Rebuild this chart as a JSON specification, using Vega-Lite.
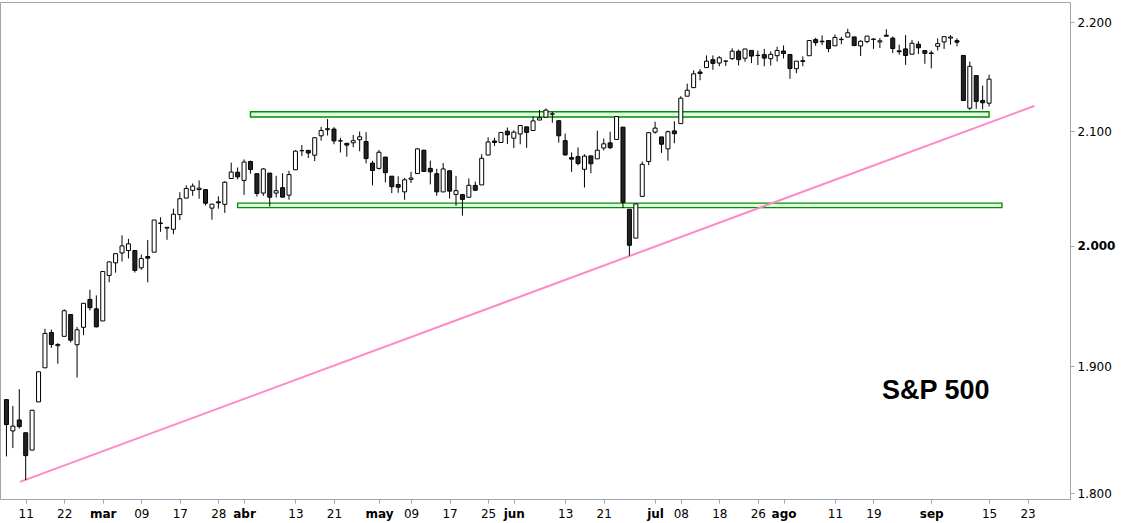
{
  "$schema": "https://vega.github.io/schema/vega-lite/v6.json",
  "autosize": "none",
  "width": 1070,
  "height": 497,
  "padding": {"left": 0, "top": 2, "right": 55, "bottom": 24},
  "background": "white",
  "config": {
    "view": {"stroke": "#9ea7b0", "strokeWidth": 1},
    "scale": {"continuousPadding": 0},
    "axis": {"grid": false, "title": null, "domainColor": "#9ea7b0", "tickColor": "#9ea7b0", "tickSize": 4, "labelFont": "DejaVu Sans", "labelFontSize": 12, "labelColor": "#000000"}
  },
  "datasets": {
    "ohlc": [
      {"d":"2016-02-08","t":-3,"o":1873.25,"h":1873.25,"l":1828.46,"c":1853.44},
      {"d":"2016-02-09","t":-2,"o":1848.46,"h":1868.25,"l":1834.94,"c":1852.21},
      {"d":"2016-02-10","t":-1,"o":1857.10,"h":1881.60,"l":1850.32,"c":1851.86},
      {"d":"2016-02-11","t":0,"o":1847.00,"h":1847.00,"l":1810.10,"c":1829.08},
      {"d":"2016-02-12","t":1,"o":1833.40,"h":1864.78,"l":1833.40,"c":1864.78},
      {"d":"2016-02-16","t":2,"o":1871.44,"h":1895.77,"l":1871.44,"c":1895.58},
      {"d":"2016-02-17","t":3,"o":1898.80,"h":1930.68,"l":1898.80,"c":1926.82},
      {"d":"2016-02-18","t":4,"o":1927.57,"h":1930.00,"l":1915.09,"c":1917.83},
      {"d":"2016-02-19","t":5,"o":1916.74,"h":1918.78,"l":1902.17,"c":1917.78},
      {"d":"2016-02-22","t":6,"o":1924.44,"h":1946.70,"l":1924.44,"c":1945.50},
      {"d":"2016-02-23","t":7,"o":1942.38,"h":1942.38,"l":1919.44,"c":1921.27},
      {"d":"2016-02-24","t":8,"o":1917.56,"h":1932.08,"l":1891.00,"c":1929.80},
      {"d":"2016-02-25","t":9,"o":1931.87,"h":1951.83,"l":1925.41,"c":1951.70},
      {"d":"2016-02-26","t":10,"o":1954.95,"h":1962.96,"l":1945.78,"c":1948.05},
      {"d":"2016-02-29","t":11,"o":1947.13,"h":1958.27,"l":1931.81,"c":1932.23},
      {"d":"2016-03-01","t":12,"o":1937.09,"h":1978.35,"l":1937.09,"c":1978.35},
      {"d":"2016-03-02","t":13,"o":1975.00,"h":1986.51,"l":1969.18,"c":1986.45},
      {"d":"2016-03-03","t":14,"o":1985.60,"h":1993.69,"l":1977.37,"c":1993.40},
      {"d":"2016-03-04","t":15,"o":1994.01,"h":2009.13,"l":1986.77,"c":1999.99},
      {"d":"2016-03-07","t":16,"o":1996.11,"h":2006.12,"l":1989.38,"c":2001.76},
      {"d":"2016-03-08","t":17,"o":1996.11,"h":1996.11,"l":1977.43,"c":1979.26},
      {"d":"2016-03-09","t":18,"o":1981.44,"h":1992.69,"l":1979.84,"c":1989.26},
      {"d":"2016-03-10","t":19,"o":1990.97,"h":2005.08,"l":1969.25,"c":1989.57},
      {"d":"2016-03-11","t":20,"o":1994.71,"h":2022.37,"l":1994.71,"c":2022.19},
      {"d":"2016-03-14","t":21,"o":2019.27,"h":2024.57,"l":2012.05,"c":2019.64},
      {"d":"2016-03-15","t":22,"o":2015.27,"h":2015.94,"l":2005.23,"c":2015.93},
      {"d":"2016-03-16","t":23,"o":2014.24,"h":2032.02,"l":2010.04,"c":2027.22},
      {"d":"2016-03-17","t":24,"o":2026.90,"h":2046.24,"l":2022.16,"c":2040.59},
      {"d":"2016-03-18","t":25,"o":2041.16,"h":2052.36,"l":2041.16,"c":2049.58},
      {"d":"2016-03-21","t":26,"o":2047.88,"h":2053.91,"l":2043.14,"c":2051.60},
      {"d":"2016-03-22","t":27,"o":2048.64,"h":2056.60,"l":2040.57,"c":2049.80},
      {"d":"2016-03-23","t":28,"o":2048.55,"h":2048.55,"l":2034.86,"c":2036.71},
      {"d":"2016-03-24","t":29,"o":2032.48,"h":2036.04,"l":2022.49,"c":2035.94},
      {"d":"2016-03-28","t":30,"o":2037.89,"h":2042.67,"l":2031.96,"c":2037.05},
      {"d":"2016-03-29","t":31,"o":2035.75,"h":2055.91,"l":2028.31,"c":2055.01},
      {"d":"2016-03-30","t":32,"o":2058.27,"h":2072.21,"l":2058.27,"c":2063.95},
      {"d":"2016-03-31","t":33,"o":2063.77,"h":2067.92,"l":2057.46,"c":2059.74},
      {"d":"2016-04-01","t":34,"o":2056.62,"h":2075.07,"l":2043.98,"c":2072.78},
      {"d":"2016-04-04","t":35,"o":2073.19,"h":2074.02,"l":2062.57,"c":2066.13},
      {"d":"2016-04-05","t":36,"o":2062.50,"h":2062.50,"l":2042.56,"c":2045.17},
      {"d":"2016-04-06","t":37,"o":2045.56,"h":2067.33,"l":2043.09,"c":2066.66},
      {"d":"2016-04-07","t":38,"o":2063.01,"h":2063.01,"l":2033.80,"c":2041.91},
      {"d":"2016-04-08","t":39,"o":2045.54,"h":2060.63,"l":2041.69,"c":2047.60},
      {"d":"2016-04-11","t":40,"o":2050.23,"h":2062.93,"l":2041.88,"c":2041.99},
      {"d":"2016-04-12","t":41,"o":2043.72,"h":2065.05,"l":2039.74,"c":2061.72},
      {"d":"2016-04-13","t":42,"o":2065.92,"h":2083.18,"l":2065.92,"c":2082.42},
      {"d":"2016-04-14","t":43,"o":2082.89,"h":2087.84,"l":2078.13,"c":2082.78},
      {"d":"2016-04-15","t":44,"o":2083.10,"h":2083.22,"l":2076.31,"c":2080.73},
      {"d":"2016-04-18","t":45,"o":2078.83,"h":2094.66,"l":2073.65,"c":2094.34},
      {"d":"2016-04-19","t":46,"o":2096.05,"h":2104.05,"l":2091.68,"c":2100.80},
      {"d":"2016-04-20","t":47,"o":2101.52,"h":2111.05,"l":2096.32,"c":2102.40},
      {"d":"2016-04-21","t":48,"o":2102.09,"h":2103.78,"l":2088.52,"c":2091.48},
      {"d":"2016-04-22","t":49,"o":2091.49,"h":2094.32,"l":2081.20,"c":2091.58},
      {"d":"2016-04-25","t":50,"o":2089.37,"h":2089.37,"l":2077.52,"c":2087.79},
      {"d":"2016-04-26","t":51,"o":2089.84,"h":2096.87,"l":2085.80,"c":2091.70},
      {"d":"2016-04-27","t":52,"o":2092.57,"h":2099.89,"l":2082.31,"c":2095.15},
      {"d":"2016-04-28","t":53,"o":2090.93,"h":2099.30,"l":2071.62,"c":2075.81},
      {"d":"2016-04-29","t":54,"o":2071.82,"h":2073.85,"l":2052.28,"c":2065.30},
      {"d":"2016-05-02","t":55,"o":2067.17,"h":2083.42,"l":2066.11,"c":2081.43},
      {"d":"2016-05-03","t":56,"o":2077.18,"h":2077.18,"l":2054.89,"c":2063.37},
      {"d":"2016-05-04","t":57,"o":2060.30,"h":2060.30,"l":2045.55,"c":2051.12},
      {"d":"2016-05-05","t":58,"o":2052.95,"h":2060.23,"l":2045.77,"c":2050.63},
      {"d":"2016-05-06","t":59,"o":2046.61,"h":2058.79,"l":2039.67,"c":2057.14},
      {"d":"2016-05-09","t":60,"o":2057.55,"h":2064.15,"l":2054.31,"c":2058.69},
      {"d":"2016-05-10","t":61,"o":2062.63,"h":2084.87,"l":2062.63,"c":2084.39},
      {"d":"2016-05-11","t":62,"o":2083.29,"h":2083.29,"l":2064.46,"c":2064.46},
      {"d":"2016-05-12","t":63,"o":2067.17,"h":2073.99,"l":2053.13,"c":2064.11},
      {"d":"2016-05-13","t":64,"o":2062.50,"h":2066.79,"l":2043.13,"c":2046.61},
      {"d":"2016-05-16","t":65,"o":2046.53,"h":2071.88,"l":2046.53,"c":2066.66},
      {"d":"2016-05-17","t":66,"o":2065.04,"h":2065.69,"l":2040.82,"c":2047.21},
      {"d":"2016-05-18","t":67,"o":2044.38,"h":2060.61,"l":2034.49,"c":2047.63},
      {"d":"2016-05-19","t":68,"o":2044.21,"h":2044.21,"l":2025.91,"c":2040.04},
      {"d":"2016-05-20","t":69,"o":2041.88,"h":2058.35,"l":2041.88,"c":2052.32},
      {"d":"2016-05-23","t":70,"o":2052.23,"h":2055.58,"l":2047.26,"c":2048.04},
      {"d":"2016-05-24","t":71,"o":2052.65,"h":2079.67,"l":2052.65,"c":2076.06},
      {"d":"2016-05-25","t":72,"o":2078.93,"h":2094.73,"l":2078.93,"c":2090.54},
      {"d":"2016-05-26","t":73,"o":2091.44,"h":2094.30,"l":2087.08,"c":2090.10},
      {"d":"2016-05-27","t":74,"o":2090.06,"h":2099.06,"l":2090.06,"c":2099.06},
      {"d":"2016-05-31","t":75,"o":2100.13,"h":2103.48,"l":2088.66,"c":2096.95},
      {"d":"2016-06-01","t":76,"o":2093.94,"h":2100.97,"l":2085.10,"c":2099.33},
      {"d":"2016-06-02","t":77,"o":2097.71,"h":2105.26,"l":2088.59,"c":2105.26},
      {"d":"2016-06-03","t":78,"o":2104.07,"h":2104.07,"l":2085.36,"c":2099.13},
      {"d":"2016-06-06","t":79,"o":2100.83,"h":2113.36,"l":2100.83,"c":2109.41},
      {"d":"2016-06-07","t":80,"o":2110.18,"h":2119.22,"l":2110.18,"c":2112.13},
      {"d":"2016-06-08","t":81,"o":2112.71,"h":2120.55,"l":2112.71,"c":2119.12},
      {"d":"2016-06-09","t":82,"o":2115.65,"h":2117.64,"l":2107.73,"c":2115.48},
      {"d":"2016-06-10","t":83,"o":2109.57,"h":2109.57,"l":2089.96,"c":2096.07},
      {"d":"2016-06-13","t":84,"o":2091.75,"h":2098.12,"l":2078.46,"c":2079.06},
      {"d":"2016-06-14","t":85,"o":2076.65,"h":2081.30,"l":2064.10,"c":2075.32},
      {"d":"2016-06-15","t":86,"o":2077.60,"h":2085.65,"l":2069.80,"c":2071.50},
      {"d":"2016-06-16","t":87,"o":2066.36,"h":2079.62,"l":2050.37,"c":2077.99},
      {"d":"2016-06-17","t":88,"o":2078.20,"h":2078.20,"l":2062.84,"c":2071.22},
      {"d":"2016-06-20","t":89,"o":2075.58,"h":2100.66,"l":2075.58,"c":2083.25},
      {"d":"2016-06-21","t":90,"o":2085.19,"h":2093.66,"l":2083.02,"c":2088.90},
      {"d":"2016-06-22","t":91,"o":2089.75,"h":2099.71,"l":2084.36,"c":2085.45},
      {"d":"2016-06-23","t":92,"o":2092.80,"h":2113.32,"l":2092.80,"c":2113.32},
      {"d":"2016-06-24","t":93,"o":2103.81,"h":2103.81,"l":2032.57,"c":2037.41},
      {"d":"2016-06-27","t":94,"o":2031.45,"h":2031.45,"l":1991.68,"c":2000.54},
      {"d":"2016-06-28","t":95,"o":2006.67,"h":2036.09,"l":2006.67,"c":2036.09},
      {"d":"2016-06-29","t":96,"o":2042.69,"h":2073.13,"l":2042.69,"c":2070.77},
      {"d":"2016-06-30","t":97,"o":2073.17,"h":2098.94,"l":2070.00,"c":2098.86},
      {"d":"2016-07-01","t":98,"o":2099.34,"h":2108.71,"l":2097.90,"c":2102.95},
      {"d":"2016-07-05","t":99,"o":2095.05,"h":2095.05,"l":2080.86,"c":2088.55},
      {"d":"2016-07-06","t":100,"o":2084.43,"h":2100.72,"l":2074.02,"c":2099.73},
      {"d":"2016-07-07","t":101,"o":2100.42,"h":2109.08,"l":2089.39,"c":2097.90},
      {"d":"2016-07-08","t":102,"o":2106.97,"h":2131.71,"l":2106.97,"c":2129.90},
      {"d":"2016-07-11","t":103,"o":2131.72,"h":2143.16,"l":2131.72,"c":2137.16},
      {"d":"2016-07-12","t":104,"o":2139.50,"h":2155.40,"l":2139.50,"c":2152.14},
      {"d":"2016-07-13","t":105,"o":2153.81,"h":2156.45,"l":2146.21,"c":2152.43},
      {"d":"2016-07-14","t":106,"o":2157.88,"h":2169.05,"l":2157.88,"c":2163.75},
      {"d":"2016-07-15","t":107,"o":2165.13,"h":2169.05,"l":2155.79,"c":2161.74},
      {"d":"2016-07-18","t":108,"o":2162.04,"h":2168.35,"l":2159.07,"c":2166.89},
      {"d":"2016-07-19","t":109,"o":2163.79,"h":2164.63,"l":2159.40,"c":2163.78},
      {"d":"2016-07-20","t":110,"o":2166.10,"h":2175.63,"l":2164.89,"c":2173.02},
      {"d":"2016-07-21","t":111,"o":2172.91,"h":2174.56,"l":2159.75,"c":2165.17},
      {"d":"2016-07-22","t":112,"o":2166.47,"h":2175.11,"l":2163.24,"c":2175.03},
      {"d":"2016-07-25","t":113,"o":2173.71,"h":2173.71,"l":2161.95,"c":2168.48},
      {"d":"2016-07-26","t":114,"o":2168.97,"h":2173.54,"l":2160.18,"c":2169.18},
      {"d":"2016-07-27","t":115,"o":2169.81,"h":2174.98,"l":2159.07,"c":2166.58},
      {"d":"2016-07-28","t":116,"o":2166.05,"h":2172.85,"l":2159.74,"c":2170.06},
      {"d":"2016-07-29","t":117,"o":2168.83,"h":2177.09,"l":2163.49,"c":2173.60},
      {"d":"2016-08-01","t":118,"o":2173.15,"h":2178.29,"l":2166.21,"c":2170.84},
      {"d":"2016-08-02","t":119,"o":2169.94,"h":2170.20,"l":2147.58,"c":2157.03},
      {"d":"2016-08-03","t":120,"o":2156.81,"h":2163.79,"l":2152.70,"c":2163.79},
      {"d":"2016-08-04","t":121,"o":2163.51,"h":2168.19,"l":2159.07,"c":2164.25},
      {"d":"2016-08-05","t":122,"o":2168.79,"h":2182.87,"l":2168.79,"c":2182.87},
      {"d":"2016-08-08","t":123,"o":2183.76,"h":2185.44,"l":2177.85,"c":2180.89},
      {"d":"2016-08-09","t":124,"o":2182.24,"h":2187.66,"l":2178.61,"c":2181.74},
      {"d":"2016-08-10","t":125,"o":2182.81,"h":2183.41,"l":2172.00,"c":2175.49},
      {"d":"2016-08-11","t":126,"o":2177.97,"h":2188.45,"l":2177.97,"c":2185.79},
      {"d":"2016-08-12","t":127,"o":2183.74,"h":2186.28,"l":2179.42,"c":2184.05},
      {"d":"2016-08-15","t":128,"o":2186.08,"h":2193.81,"l":2186.08,"c":2190.15},
      {"d":"2016-08-16","t":129,"o":2186.24,"h":2186.24,"l":2178.14,"c":2178.15},
      {"d":"2016-08-17","t":130,"o":2177.84,"h":2183.08,"l":2168.50,"c":2182.22},
      {"d":"2016-08-18","t":131,"o":2181.90,"h":2187.03,"l":2180.46,"c":2187.02},
      {"d":"2016-08-19","t":132,"o":2184.24,"h":2185.00,"l":2175.13,"c":2183.87},
      {"d":"2016-08-22","t":133,"o":2181.58,"h":2185.15,"l":2175.96,"c":2182.64},
      {"d":"2016-08-23","t":134,"o":2187.81,"h":2193.42,"l":2186.80,"c":2186.90},
      {"d":"2016-08-24","t":135,"o":2185.09,"h":2186.66,"l":2171.25,"c":2175.44},
      {"d":"2016-08-25","t":136,"o":2173.29,"h":2179.00,"l":2169.74,"c":2172.47},
      {"d":"2016-08-26","t":137,"o":2175.10,"h":2187.94,"l":2160.39,"c":2169.04},
      {"d":"2016-08-29","t":138,"o":2170.19,"h":2183.48,"l":2170.19,"c":2180.38},
      {"d":"2016-08-30","t":139,"o":2179.45,"h":2182.27,"l":2170.41,"c":2176.12},
      {"d":"2016-08-31","t":140,"o":2173.56,"h":2173.79,"l":2161.35,"c":2170.95},
      {"d":"2016-09-01","t":141,"o":2171.33,"h":2173.56,"l":2157.09,"c":2170.86},
      {"d":"2016-09-02","t":142,"o":2177.49,"h":2184.87,"l":2173.59,"c":2179.98},
      {"d":"2016-09-06","t":143,"o":2181.61,"h":2186.57,"l":2175.10,"c":2186.48},
      {"d":"2016-09-07","t":144,"o":2185.17,"h":2187.87,"l":2179.07,"c":2186.16},
      {"d":"2016-09-08","t":145,"o":2182.76,"h":2184.94,"l":2177.49,"c":2181.30},
      {"d":"2016-09-09","t":146,"o":2169.08,"h":2169.08,"l":2127.81,"c":2127.81},
      {"d":"2016-09-12","t":147,"o":2120.86,"h":2163.30,"l":2119.12,"c":2159.04},
      {"d":"2016-09-13","t":148,"o":2150.47,"h":2150.47,"l":2120.27,"c":2127.02},
      {"d":"2016-09-14","t":149,"o":2127.86,"h":2141.33,"l":2119.90,"c":2125.77},
      {"d":"2016-09-15","t":150,"o":2125.36,"h":2151.31,"l":2122.36,"c":2147.26}
    ],
    "zones": [
      {"t1": 35, "t2": 150, "lo": 2112.9, "hi": 2117.6},
      {"t1": 33, "t2": 152, "lo": 2032.9, "hi": 2036.8}
    ],
    "trend": [
      {"t": -0.89, "v": 1808.7},
      {"t": 157.03, "v": 2122.8}
    ],
    "note": [
      {"t": 141.7, "v": 1873.8, "label": "S&P 500"}
    ]
  },
  "layer": [
    {
      "data": {"name": "zones"},
      "mark": {"type": "rect", "fill": "#ddffdd", "stroke": "#0a8a0a", "strokeWidth": 1.4},
      "encoding": {
        "x": {"field": "t1", "type": "quantitative", "scale": {"domain": [-4, 162.6], "nice": false, "zero": false, "padding": 0},
          "axis": {
            "values": [0,6,12,18,24,30,34,42,48,55,60,66,72,76,84,90,98,102,108,114,118,126,132,141,150,156],
            "labelExpr": "['11','22','mar','09','17','28','abr','13','21','may','09','17','25','jun','13','21','jul','08','18','26','ago','11','19','sep','15','23'][indexof([0,6,12,18,24,30,34,42,48,55,60,66,72,76,84,90,98,102,108,114,118,126,132,141,150,156], datum.value)]",
            "labelFontWeight": {"condition": {"test": "indexof([12,34,55,76,98,118,141], datum.value) >= 0", "value": "bold"}, "value": "normal"},
            "labelPadding": 5,
            "labelOverlap": false,
            "labelFlush": false
          }},
        "x2": {"field": "t2"},
        "y": {"field": "lo", "type": "quantitative", "scale": {"type": "log", "domain": [1795.6, 2219.0], "nice": false, "padding": 0},
          "axis": {
            "orient": "right",
            "values": [1800, 1900, 2000, 2100, 2200],
            "labelExpr": "replace(format(datum.value, ','), ',', '.')",
            "labelFontWeight": {"condition": {"test": "datum.value == 2000", "value": "bold"}, "value": "normal"},
            "labelPadding": 3,
            "labelOverlap": false
          }},
        "y2": {"field": "hi"}
      }
    },
    {
      "data": {"name": "trend"},
      "mark": {"type": "line", "color": "#ff88c8", "strokeWidth": 2},
      "encoding": {
        "x": {"field": "t", "type": "quantitative", "scale": {"domain": [-4, 162.6], "nice": false, "zero": false, "padding": 0}},
        "y": {"field": "v", "type": "quantitative", "scale": {"type": "log", "domain": [1795.6, 2219.0], "nice": false, "padding": 0}}
      }
    },
    {
      "data": {"name": "ohlc"},
      "mark": {"type": "rule", "color": "#000000", "strokeWidth": 1},
      "encoding": {
        "x": {"field": "t", "type": "quantitative", "scale": {"domain": [-4, 162.6], "nice": false, "zero": false, "padding": 0}},
        "y": {"field": "l", "type": "quantitative", "scale": {"type": "log", "domain": [1795.6, 2219.0], "nice": false, "padding": 0}},
        "y2": {"field": "h"}
      }
    },
    {
      "data": {"name": "ohlc"},
      "mark": {"type": "bar", "size": 4, "stroke": "#000000", "strokeWidth": 1},
      "encoding": {
        "x": {"field": "t", "type": "quantitative", "scale": {"domain": [-4, 162.6], "nice": false, "zero": false, "padding": 0}},
        "y": {"field": "o", "type": "quantitative", "scale": {"type": "log", "domain": [1795.6, 2219.0], "nice": false, "padding": 0}},
        "y2": {"field": "c"},
        "fill": {"condition": {"test": "datum.c >= datum.o", "value": "#ffffff"}, "value": "#222222"}
      }
    },
    {
      "data": {"name": "note"},
      "mark": {"type": "text", "font": "Liberation Sans", "fontWeight": "bold", "fontSize": 27, "align": "center", "baseline": "alphabetic", "color": "#000000"},
      "encoding": {
        "x": {"field": "t", "type": "quantitative", "scale": {"domain": [-4, 162.6], "nice": false, "zero": false, "padding": 0}},
        "y": {"field": "v", "type": "quantitative", "scale": {"type": "log", "domain": [1795.6, 2219.0], "nice": false, "padding": 0}},
        "text": {"field": "label"}
      }
    }
  ]
}
